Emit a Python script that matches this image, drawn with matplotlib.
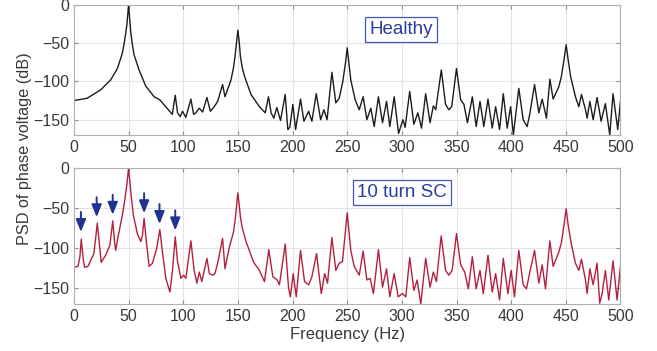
import matplotlib
matplotlib.use("Agg")
import matplotlib.pyplot as plt

plt.rcParams['font.family'] = ['Liberation Sans', 'DejaVu Sans']

# PSD of healthy machine (freq Hz, dB)
healthy_f = [0, 12, 24.5, 33.6, 39.8, 44.3, 46, 47.4, 48.5, 49.3, 50, 50.7, 51.3, 52, 53.5, 55, 59.6, 65.7,
             73.4, 78.6, 84, 90,
             92.7, 94.8, 97.2, 99.4, 102.4, 107, 109.5, 111.6, 114.7, 117.7, 121.7, 124.8, 128.4,
             131.5, 136, 138.2, 143.7, 146, 147.4, 148.8, 150, 151.2, 152.3, 154, 156, 162, 169.7, 175,
             178, 180.4, 182.9,
             185.6, 189, 193.3, 195.7, 197.5, 200.3, 202.8, 207.3, 210.4, 214.7, 217.7, 221.7, 225.7,
             228.7, 231.6, 236, 239.6, 242.7, 246, 248.5, 250, 251.5, 253.3, 257.3, 261, 264.6, 268,
             271.6, 274.7,
             278.6, 282.3, 286, 289, 293, 297, 301, 303, 307.2, 311, 314.6, 318, 321.8, 325.8, 328.8,
             331, 336.1, 340, 343, 345.6, 350, 353.8, 356.8, 360, 364.5, 368, 371.5, 375, 378.8,
             382.7, 385.8, 389.4, 392.8, 396.4, 399.5, 402, 407, 411, 414.6, 417, 421.4, 425.3,
             428.4, 432.3, 435.4, 438.4, 443.6, 446, 448.5, 450.3, 452, 454.3, 458.8, 461.9, 464.3,
             468, 469.5, 472, 475, 478.6, 482.3, 486.2, 490.2, 493.2, 497.5, 500]
healthy_db = [-125, -122, -111, -98, -83, -63, -50, -37, -25, -12, 0, -12, -24, -35, -52, -65, -85, -106,
              -120, -124, -133, -143,
              -118, -141, -146, -139, -147, -123, -143, -141, -135, -140, -121, -139, -133,
              -126, -104, -120, -98, -82, -67, -48, -33, -48, -67, -82, -93, -117, -133, -141,
              -120, -141, -148,
              -134, -151, -117, -163, -160, -130, -163, -123, -152, -139, -152, -116, -150,
              -137, -150, -88, -128, -122, -100, -75, -56, -75, -98, -124, -137, -120, -150,
              -135, -159,
              -120, -154, -126, -159, -120, -168, -150, -160, -113, -156, -141, -161, -116, -154, -132,
              -137, -85, -130, -137, -133, -83, -124, -130, -154, -120, -159, -126, -159, -123,
              -161, -133, -163, -116, -161, -133, -170, -109, -150, -159, -143, -104, -141,
              -123, -148, -97, -123, -107, -93, -70, -52, -70, -93, -120, -133, -117,
              -137, -148, -126, -150, -121, -152, -129, -170, -116, -163, -126]

# PSD with 10 turn short circuit
sc_f = [0, 3.7, 5.5, 6.7, 8.6, 9.8, 12.8, 18.3, 21.4, 23.9, 25, 29, 33, 35.5, 37.3, 38.2, 40.4, 44.3,
        46, 47.4, 48.5, 49.3, 50, 50.7, 51.5, 52.5, 54.4, 58, 61.2, 62.7, 64.2, 66.4, 68.8, 71.9, 75.8,
        78.6, 81, 84.1, 87.8,
        90.2, 92.7, 94.8, 97.9, 100.3, 102.4, 107, 110, 112.5, 114.7, 117, 121.7, 123.9, 127, 129,
        131.5, 136, 138.2, 142, 146, 147.5, 148.8, 150, 151.2, 152.5, 154, 157.5, 163.6, 165, 169.7,
        174.3, 178.3, 182, 186,
        188, 193.3, 196.3, 198, 200.6, 203.4, 207.3, 211, 214.7, 217.7, 222, 226.3, 229.4, 232,
        236, 239.6, 242.7, 245.7, 248.5, 250, 251.5, 253.3, 256.4, 261, 264.6, 268, 271, 274, 278.6,
        282.3,
        286, 289, 293, 296.6, 300.5, 303.6, 307.2, 311, 314, 317.3, 321.8, 325.8, 328.8, 331.6,
        336, 340, 343, 346, 350, 353.8, 357.5, 360.8, 364.5, 368, 371.5, 374.5, 378.8, 382.7,
        385.8, 389.4, 392.8, 397, 400, 403, 407, 411, 414, 416.8, 421.4, 425.3, 428.4, 431.4,
        435.4, 438.4, 443.6, 446, 448.5, 450.3, 452, 454.9, 458.8, 461.9, 464.3, 468, 469.5, 472,
        475, 478.6, 481, 483.2, 486.2, 489.3, 493.2, 496.9, 500]
sc_db = [-124, -123, -111, -89, -115, -124, -123, -107, -69, -103, -118, -109, -96, -66, -94, -103, -86, -59,
         -45, -31, -20, -10, 0, -10, -22, -36, -59, -82, -92, -84, -63, -94, -123, -119, -100,
         -77, -105, -138, -155,
         -128, -86, -117, -138, -134, -138, -91, -128, -144, -130, -142, -113, -132, -134, -132,
         -119, -88, -126, -100, -80, -65, -47, -31, -47, -63, -75, -92, -115, -119, -128,
         -142, -102, -136, -140,
         -146, -95, -149, -161, -132, -161, -103, -142, -146, -136, -107, -157, -132, -144,
         -87, -128, -119, -117, -78, -56, -78, -103, -123, -134, -104, -140, -138, -157, -102,
         -149,
         -126, -161, -132, -161, -157, -161, -112, -153, -140, -170, -113, -149, -130, -142,
         -85, -128, -134, -128, -82, -121, -130, -151, -111, -151, -128, -157, -109, -155,
         -132, -165, -113, -157, -128, -161, -103, -146, -151, -132, -103, -144, -121, -151,
         -91, -123, -105, -93, -70, -51, -70, -94, -119, -128, -114, -140, -157, -126,
         -146, -119, -169, -157, -128, -165, -116, -165, -123]

# arrows marking the fault sidebands (freq, tip level dB)
arrow_f = [6.4, 20.8, 35.5, 64.2, 78.3, 92.7]
arrow_tip = [-80, -61.5, -58.5, -56.5, -70, -78]

xticks = [0, 50, 100, 150, 200, 250, 300, 350, 400, 450, 500]
yticks = [-150, -100, -50, 0]

fig = plt.figure(figsize=(6.57, 3.51), dpi=100)
ax1 = fig.add_axes([0.1125, 0.6154, 0.8319, 0.3704])
ax2 = fig.add_axes([0.1125, 0.1339, 0.8319, 0.3875])

for ax in [ax1, ax2]:
    ax.set_xlim(0, 500)
    ax.set_ylim(-170, 0)
    ax.set_xticks(xticks)
    ax.set_yticks(yticks)
    ax.grid(True, color='#e3e3e3', linewidth=0.8)
    ax.set_axisbelow(True)
    ax.tick_params(direction='in', length=3, color='#8c8c8c', labelsize=11.5,
                   labelcolor='#383838', top=True, right=True)
    for s in ax.spines.values():
        s.set_color('#b0b0b0')
        s.set_linewidth(0.8)

ax1.plot(healthy_f, healthy_db, color='#1c1c1c', linewidth=1.0)
ax2.plot(sc_f, sc_db, color='#b3203f', linewidth=1.0)

box = dict(boxstyle='square,pad=0.22', facecolor='white', edgecolor='#4456b8', linewidth=0.9)
ax1.text(299, -32, "Healthy", color='#2a3c9c', fontsize=13.5, ha='center', va='center', bbox=box)
ax2.text(300, -31, "10 turn SC", color='#2a3c9c', fontsize=13.5, ha='center', va='center', bbox=box)

for f, tip in zip(arrow_f, arrow_tip):
    ax2.annotate("", xy=(f, tip), xytext=(f, tip + 25),
                 arrowprops=dict(arrowstyle='-|>,head_width=0.3,head_length=0.75',
                                 color='#1f3490', linewidth=1.4, shrinkA=0, shrinkB=0))

ax2.set_xlabel("Frequency (Hz)", fontsize=12, color='#383838', labelpad=2)
fig.text(0.038, 0.575, "PSD of phase voltage (dB)", rotation=90, fontsize=11.7,
         color='#383838', ha='center', va='center')

fig.savefig("out.png", dpi=100)
